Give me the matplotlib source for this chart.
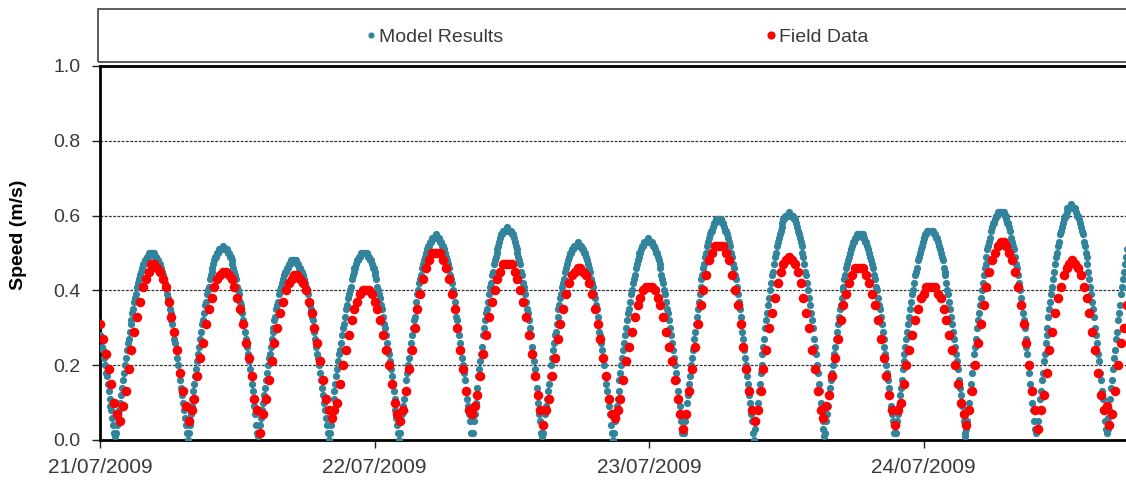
import matplotlib
matplotlib.use('Agg')
import matplotlib.pyplot as plt
import matplotlib.dates as mdates
from matplotlib.patches import Rectangle
import numpy as np
import pandas as pd

plt.rcParams['font.family'] = ['Liberation Sans', 'DejaVu Sans']

# model results - current speed (cm/s), one value every 5 min from 21/07/2009 00:00
model_cm = [
    28, 27, 25, 24, 22, 20, 18, 17, 15, 13, 11, 9, 8, 6, 4, 2,
    1, 2, 4, 6, 8, 10, 12, 14, 16, 18, 20, 22, 24, 26, 27, 29, 31, 32, 34, 35, 37, 38, 39, 41, 42, 43, 44, 45, 46, 47, 47, 48, 48, 49, 49, 50, 50, 50, 50, 50, 50, 50, 49, 49, 48, 48, 47, 47, 46, 45, 44, 43, 42, 41, 39, 38, 37, 35, 34, 32, 31, 29, 27, 26, 24, 22, 20, 18, 16, 14, 12, 10, 8, 6, 4, 2,
    0, 2, 4, 7, 9, 11, 13, 15, 17, 19, 21, 23, 25, 27, 29, 31, 32, 34, 36, 37, 39, 40, 41, 43, 44, 45, 46, 47, 48, 49, 49, 50, 50, 51, 51, 51, 51, 52, 51, 51, 51, 51, 50, 50, 49, 49, 48, 47, 46, 45, 44, 43, 41, 40, 39, 37, 36, 34, 32, 31, 29, 27, 25, 23, 21, 19, 17, 15, 13, 11, 9, 7, 4, 2,
    1, 2, 4, 6, 8, 10, 12, 14, 16, 18, 20, 22, 23, 25, 27, 29, 30, 32, 33, 35, 36, 37, 39, 40, 41, 42, 43, 44, 45, 45, 46, 46, 47, 47, 48, 48, 48, 48, 48, 48, 48, 47, 47, 46, 46, 45, 45, 44, 43, 42, 41, 40, 39, 37, 36, 35, 33, 32, 30, 29, 27, 25, 23, 22, 20, 18, 16, 14, 12, 10, 8, 6, 4, 2,
    0, 2, 4, 6, 8, 11, 13, 15, 17, 19, 21, 23, 24, 26, 28, 30, 31, 33, 35, 36, 38, 39, 40, 41, 43, 44, 45, 46, 46, 47, 48, 48, 49, 49, 50, 50, 50, 50, 50, 50, 50, 49, 49, 48, 48, 47, 46, 46, 45, 44, 43, 41, 40, 39, 38, 36, 35, 33, 31, 30, 28, 26, 24, 23, 21, 19, 17, 15, 13, 11, 8, 6, 4, 2,
    0, 2, 5, 7, 9, 11, 13, 16, 18, 20, 22, 24, 26, 28, 30, 32, 33, 35, 37, 39, 40, 42, 43, 44, 46, 47, 48, 49, 50, 51, 52, 52, 53, 53, 54, 54, 54, 54, 55, 54, 54, 54, 54, 53, 53, 52, 52, 51, 50, 49, 48, 47, 46, 44, 43, 42, 40, 39, 37, 35, 33, 32, 30, 28, 26, 24, 22, 20, 18, 16, 13, 11, 9, 7, 5, 2,
    2, 2, 5, 7, 10, 12, 14, 17, 19, 21, 23, 25, 28, 30, 32, 34, 35, 37, 39, 41, 42, 44, 45, 47, 48, 49, 50, 51, 52, 53, 54, 55, 55, 56, 56, 56, 56, 57, 56, 56, 56, 56, 55, 55, 54, 53, 52, 51, 50, 49, 48, 47, 45, 44, 42, 41, 39, 37, 35, 34, 32, 30, 28, 25, 23, 21, 19, 17, 14, 12, 10, 7, 5, 2,
    1, 2, 4, 7, 9, 11, 13, 15, 17, 20, 22, 24, 26, 28, 29, 31, 33, 35, 36, 38, 39, 41, 42, 43, 45, 46, 47, 48, 49, 50, 50, 51, 51, 52, 52, 52, 52, 53, 52, 52, 52, 52, 51, 51, 50, 50, 49, 48, 47, 46, 45, 43, 42, 41, 39, 38, 36, 35, 33, 31, 29, 28, 26, 24, 22, 20, 17, 15, 13, 11, 9, 7, 4, 2,
    0, 2, 5, 7, 9, 11, 13, 16, 18, 20, 22, 24, 26, 28, 30, 32, 34, 35, 37, 39, 40, 42, 43, 44, 46, 47, 48, 49, 50, 50, 51, 52, 52, 53, 53, 53, 53, 54, 53, 53, 53, 53, 52, 52, 51, 50, 50, 49, 48, 47, 46, 44, 43, 42, 40, 39, 37, 35, 34, 32, 30, 28, 26, 24, 22, 20, 18, 16, 13, 11, 9, 7, 5, 2,
    2, 2, 5, 7, 10, 12, 15, 17, 20, 22, 24, 27, 29, 31, 33, 35, 37, 39, 41, 43, 44, 46, 47, 49, 50, 52, 53, 54, 55, 56, 56, 57, 58, 58, 59, 59, 59, 59, 59, 59, 59, 58, 58, 57, 56, 56, 55, 54, 53, 52, 50, 49, 47, 46, 44, 43, 41, 39, 37, 35, 33, 31, 29, 27, 24, 22, 20, 17, 15, 12, 10, 7, 5, 2,
    0, 3, 5, 8, 10, 13, 15, 18, 20, 23, 25, 27, 30, 32, 34, 36, 38, 40, 42, 44, 45, 47, 49, 50, 52, 53, 54, 55, 56, 57, 58, 59, 59, 60, 60, 60, 60, 61, 60, 60, 60, 60, 59, 59, 58, 57, 56, 55, 54, 53, 52, 50, 49, 47, 45, 44, 42, 40, 38, 36, 34, 32, 30, 27, 25, 23, 20, 18, 15, 13, 10, 8, 5, 3,
    1, 2, 5, 7, 9, 12, 14, 16, 18, 20, 23, 25, 27, 29, 31, 33, 35, 36, 38, 40, 41, 43, 44, 46, 47, 48, 49, 50, 51, 52, 53, 53, 54, 54, 55, 55, 55, 55, 55, 55, 55, 54, 54, 53, 53, 52, 51, 50, 49, 48, 47, 46, 44, 43, 41, 40, 38, 36, 35, 33, 31, 29, 27, 25, 23, 20, 18, 16, 14, 12, 9, 7, 5, 2,
    2, 2, 5, 7, 9, 12, 14, 16, 19, 21, 23, 25, 27, 29, 31, 33, 35, 37, 39, 40, 42, 44, 45, 46, 48, 49, 50, 51, 52, 53, 54, 54, 55, 55, 56, 56, 56, 56, 56, 56, 56, 55, 55, 54, 54, 53, 52, 51, 50, 49, 48, 46, 45, 44, 42, 40, 39, 37, 35, 33, 31, 29, 27, 25, 23, 21, 19, 16, 14, 12, 9, 7, 5, 2,
    1, 3, 5, 8, 10, 13, 15, 18, 20, 23, 25, 27, 30, 32, 34, 36, 38, 40, 42, 44, 46, 47, 49, 51, 52, 53, 54, 56, 57, 58, 58, 59, 60, 60, 61, 61, 61, 61, 61, 61, 61, 60, 60, 59, 58, 58, 57, 56, 54, 53, 52, 51, 49, 47, 46, 44, 42, 40, 38, 36, 34, 32, 30, 27, 25, 23, 20, 18, 15, 13, 10, 8, 5, 3,
    2, 3, 5, 8, 11, 13, 16, 18, 21, 23, 26, 28, 30, 33, 35, 37, 39, 41, 43, 45, 47, 49, 50, 52, 53, 55, 56, 57, 58, 59, 60, 60, 61, 62, 62, 62, 62, 63, 62, 62, 62, 62, 61, 60, 60, 59, 58, 57, 56, 55, 53, 52, 50, 49, 47, 45, 43, 41, 39, 37, 35, 33, 30, 28, 26, 23, 21, 18, 16, 13, 11, 8, 5, 3,
    2, 3, 6, 8, 11, 14, 16, 19, 22, 24, 27, 29, 32, 34, 36, 39, 41, 43, 45, 47, 49, 51,
]

# field data - measured speed (cm/s), one value every 15 min from 21/07/2009 00:00
field_cm = [
    31, 27, 23, 19, 15, 10, 7,
    5, 9, 13, 19, 24, 29, 33, 37, 41, 43, 45, 47, 47, 46, 45, 43, 41, 37, 33, 29, 24, 18, 13, 9,
    5, 8, 11, 17, 22, 26, 31, 35, 38, 41, 43, 44, 45, 45, 44, 43, 41, 38, 35, 31, 26, 22, 17, 11, 8,
    2, 7, 11, 16, 21, 26, 30, 34, 37, 40, 42, 43, 44, 44, 43, 42, 40, 37, 34, 30, 26, 21, 16, 11, 8,
    6, 8, 10, 15, 20, 24, 28, 32, 35, 37, 39, 40, 40, 40, 39, 37, 35, 32, 28, 24, 20, 15, 10, 7,
    5, 8, 13, 19, 24, 30, 35, 39, 43, 46, 48, 50, 50, 50, 50, 48, 46, 43, 39, 35, 30, 24, 19, 13, 8,
    7, 9, 12, 17, 23, 28, 33, 37, 40, 43, 45, 47, 47, 47, 47, 45, 43, 40, 37, 33, 28, 23, 17, 12, 8,
    4, 8, 11, 17, 22, 27, 31, 35, 39, 42, 44, 45, 46, 46, 45, 44, 42, 39, 35, 31, 27, 22, 17, 11, 7,
    6, 8, 11, 16, 21, 25, 29, 33, 36, 38, 40, 41, 41, 41, 40, 38, 36, 33, 29, 25, 21, 16, 11, 7,
    3, 7, 13, 19, 25, 31, 36, 40, 44, 48, 50, 52, 52, 52, 52, 50, 48, 44, 40, 36, 31, 25, 19, 13, 8,
    5, 8, 13, 19, 24, 30, 34, 38, 42, 45, 47, 48, 49, 48, 47, 45, 42, 38, 34, 30, 24, 19, 13, 8,
    6, 9, 12, 17, 22, 27, 32, 36, 39, 42, 44, 46, 46, 46, 46, 44, 42, 39, 36, 32, 27, 22, 17, 12, 8,
    4, 8, 10, 15, 20, 24, 28, 32, 35, 38, 39, 41, 41, 41, 41, 39, 38, 35, 32, 28, 24, 20, 15, 10, 7,
    4, 8, 13, 20, 26, 31, 36, 41, 45, 48, 50, 52, 53, 53, 52, 50, 48, 45, 41, 36, 31, 26, 20, 13, 8,
    3, 8, 12, 18, 24, 29, 34, 38, 41, 44, 46, 47, 48, 47, 46, 44, 41, 38, 34, 29, 24, 18, 12, 8,
    9, 4, 7, 13, 20, 26, 30, 36,
]

model_speed = np.array(model_cm) / 100.0
field_speed = np.array(field_cm) / 100.0
model_time = pd.date_range('2009-07-21 00:00', periods=len(model_speed), freq='5min')
field_time = pd.date_range('2009-07-21 00:00', periods=len(field_speed), freq='15min')

teal = '#31849B'
red = '#FF0000'
text_col = '#3a3a3a'

fig = plt.figure(figsize=(11.26, 4.8), dpi=100)
ax = fig.add_axes([100 / 1126, 40 / 480, 1026 / 1126, 374 / 480])

m_line, = ax.plot(model_time, model_speed, linestyle='none', marker='o', ms=5.2,
                  mew=0, color=teal, label='Model Results', zorder=3)
f_line, = ax.plot(field_time, field_speed, linestyle='none', marker='o', ms=6.9,
                  mew=0, color=red, label='Field Data', zorder=4)

ax.set_ylim(0, 1.0)
ax.set_yticks(np.arange(0, 1.01, 0.2))
ax.yaxis.set_major_formatter(matplotlib.ticker.FormatStrFormatter('%.1f'))
start = pd.Timestamp('2009-07-21 00:00')
ax.set_xlim(start, start + pd.Timedelta(minutes=5382))
ax.xaxis.set_major_locator(mdates.DayLocator())
ax.xaxis.set_major_formatter(mdates.DateFormatter('%d/%m/%Y'))

# dashed horizontal gridlines
for yv in [0.2, 0.4, 0.6, 0.8]:
    ax.axhline(yv, color='#333333', lw=0.9, dashes=(2.2, 1.2), zorder=1)

for side in ['left', 'bottom', 'top']:
    ax.spines[side].set_linewidth(2)
    ax.spines[side].set_color('black')
ax.spines['right'].set_visible(False)

ax.tick_params(axis='y', length=6, width=1, color='#222222', pad=8,
               labelsize=14, labelcolor=text_col)
ax.tick_params(axis='x', length=6, width=1, color='#222222', pad=7,
               labelsize=15, labelcolor=text_col)

fig.text(19 / 1126, 1 - 235 / 480, 'Speed (m/s)', rotation=90, ha='center', va='center',
         fontsize=14, fontweight='bold', color='black')

# legend box above the plot
fig.patches.append(Rectangle((98 / 1126, 1 - 62 / 480), 1.2, 53 / 480,
                             transform=fig.transFigure, fill=False,
                             edgecolor='#505050', lw=1.3))
fig.legend(handles=[m_line, f_line], labels=['Model Results', 'Field Data'],
           loc='center', bbox_to_anchor=(618 / 1126, 1 - 37 / 480), ncol=2,
           frameon=False, fontsize=14, handlelength=0.4, handletextpad=0.2,
           columnspacing=13.6, markerscale=0.85, labelcolor=text_col)

fig.savefig('out.png', dpi=100)
